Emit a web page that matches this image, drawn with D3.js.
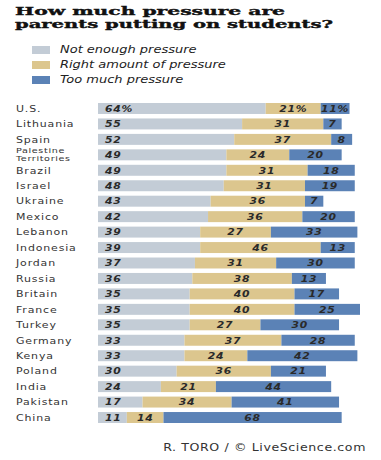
<!DOCTYPE html>
<html><head><meta charset="utf-8">
<script src="https://cdn.jsdelivr.net/npm/d3@7"></script>
<style>body{margin:0;background:#fff}</style>
</head><body><svg id="c" width="381" height="460"></svg>
<script>
const countries = ["U.S.","Lithuania","Spain","Palestine Territories","Brazil","Israel","Ukraine","Mexico","Lebanon","Indonesia","Jordan","Russia","Britain","France","Turkey","Germany","Kenya","Poland","India","Pakistan","China"];
const notEnough = [64,55,52,49,49,48,43,42,39,39,37,36,35,35,35,33,33,30,24,17,11];
const rightAmount = [21,31,37,24,31,31,36,36,27,46,31,38,40,40,27,37,24,36,21,34,14];
const tooMuch = [11,7,8,20,18,19,7,20,33,13,30,13,17,25,30,28,42,21,44,41,68];
const seriesNames = ["Not enough pressure","Right amount of pressure","Too much pressure"];
const titleLines = ["How much pressure are","parents putting on students?"];
const creditText = "R. TORO / © LiveScience.com";
const colors = ["#c3ccd6","#dcc68e","#5b82b6"];

const svg = d3.select("#c");
// horizontal stretch helper (the reference is horizontally stretched)
function stretch(sel, sx, ax) {
  sel.attr("transform", `translate(${ax},0) scale(${sx},1) translate(${-ax},0)`);
  return sel;
}

// title
const titleW = [270, 318];
titleLines.forEach((t,i)=>{
  svg.append("text").attr("x",15).attr("y",15+i*12.5).attr("font-family","DejaVu Serif").attr("font-weight","900")
    .attr("font-size",10.5).attr("fill","#111").attr("textLength",titleW[i]).attr("lengthAdjust","spacingAndGlyphs")
    .attr("stroke","#111").attr("stroke-width",0.35).text(t);
});

// legend
const lg = svg.append("g");
seriesNames.forEach((n,i)=>{
  const y = 46 + i*15;
  lg.append("rect").attr("x",32).attr("y",y).attr("width",18).attr("height",8).attr("fill",colors[i]);
  stretch(lg.append("text").attr("x",60).attr("y",y+7.5).attr("font-family","DejaVu Sans").attr("font-style","italic")
    .attr("font-size",10).attr("fill","#222").text(n), 1.3, 60);
});

const x = d3.scaleLinear().domain([0,100]).range([98, 98+262]);
const y = d3.scaleBand().domain(countries).range([103, 423]).paddingInner(0.29).paddingOuter(0);

const data = countries.map((c,i)=>({country:c, v:[notEnough[i], rightAmount[i], tooMuch[i]]}));

const rows = svg.append("g").selectAll("g").data(data).join("g");
rows.each(function(d,ri){
  const g = d3.select(this);
  let acc = 0;
  d.v.forEach((v,k)=>{
    const x0 = x(acc), x1 = x(acc+v);
    g.append("rect").attr("x",x0).attr("y",y(d.country)).attr("width",x1-x0)
      .attr("height",y.bandwidth()).attr("fill",colors[k]);
    const lbl = ri===0 ? v+"%" : String(v);
    const tx = k===0 ? x0+7 : (x0+x1)/2;
    stretch(g.append("text").attr("x",tx).attr("y",y(d.country)+y.bandwidth()/2+3.3)
      .attr("text-anchor",k===0?"start":"middle")
      .attr("font-family","DejaVu Sans").attr("font-weight","bold").attr("font-style","italic")
      .attr("font-size",9).attr("letter-spacing",0.6).attr("fill","#2a2a2a").text(lbl), 1.2, tx);
    acc += v;
  });
  const cy = y(d.country)+y.bandwidth()/2;
  if (d.country==="Palestine Territories") {
    ["Palestine","Territories"].forEach((t,j)=>{
      stretch(g.append("text").attr("x",16).attr("y",cy-1.8+j*8.2).attr("font-family","DejaVu Sans")
        .attr("font-size",7.5).attr("letter-spacing",0.5).attr("fill","#333").text(t), 1.28, 16);
    });
  } else {
    stretch(g.append("text").attr("x",16).attr("y",cy+3.3).attr("font-family","DejaVu Sans")
      .attr("font-size",9).attr("letter-spacing",0.7).attr("fill","#333").text(d.country), 1.22, 16);
  }
});

stretch(svg.append("text").attr("x",366).attr("y",451).attr("text-anchor","end").attr("font-family","DejaVu Sans")
  .attr("font-size",10.5).attr("letter-spacing",0.5).attr("fill","#333").text(creditText), 1.2, 366);
</script>
</body></html>
